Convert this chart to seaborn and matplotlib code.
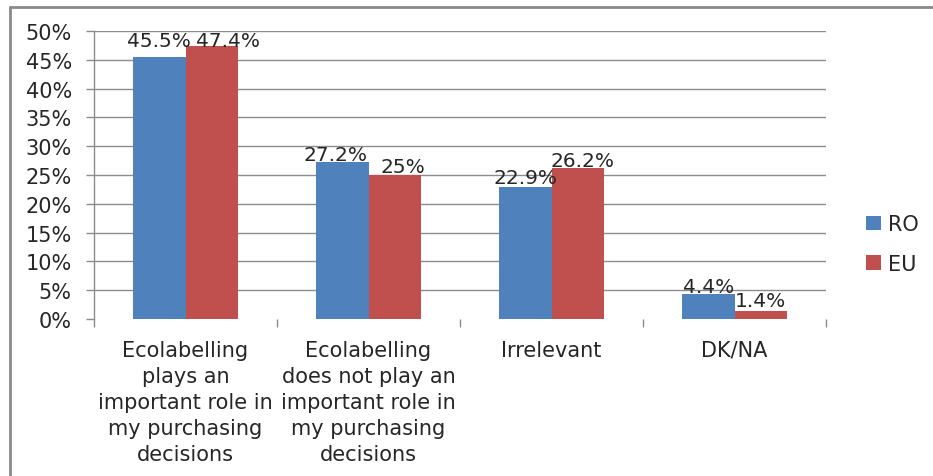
import matplotlib
matplotlib.use("Agg")
import matplotlib.pyplot as plt
import seaborn as sns
import pandas as pd
from matplotlib.lines import Line2D

# survey answers, share of respondents (%)
categories = [
    "Ecolabelling\nplays an\nimportant role in\nmy purchasing\ndecisions",
    "Ecolabelling\ndoes not play an\nimportant role in\nmy purchasing\ndecisions",
    "Irrelevant",
    "DK/NA",
]
ro = [45.5, 27.2, 22.9, 4.4]
eu = [47.4, 25, 26.2, 1.4]
series = ["RO", "EU"]
yticks = [0, 5, 10, 15, 20, 25, 30, 35, 40, 45, 50]

df = pd.DataFrame({
    "answer": categories * 2,
    "share": ro + eu,
    "series": [series[0]] * len(ro) + [series[1]] * len(eu),
})

sns.set_theme(style="white")
plt.rcParams["font.family"] = ["DejaVu Sans"]

grey = "#8c8c8c"
txt = "#262626"
fs = 15
fig = plt.figure(figsize=(9.33, 4.77), dpi=100)
ax = fig.add_axes([94 / 933, 1 - 320 / 477, (826 - 94) / 933, (320 - 32) / 477])

sns.barplot(data=df, x="answer", y="share", hue="series",
            palette=["#4F81BD", "#C0504D"], saturation=1, width=0.575,
            errorbar=None, linewidth=0, ax=ax)

ax.set_xlim(-0.5, len(categories) - 0.5)
ax.set_ylim(0, 50)
ax.set_yticks(yticks)
ax.set_yticklabels([f"{v}%" for v in yticks])
ax.set_xlabel("")
ax.set_ylabel("")

ax.grid(axis="y", color=grey, lw=1.0)
ax.yaxis.get_gridlines()[0].set_visible(False)
ax.set_axisbelow(True)

for s in ["top", "right", "bottom"]:
    ax.spines[s].set_visible(False)
ax.spines["left"].set_color(grey)
ax.spines["left"].set_linewidth(1.0)

ax.tick_params(axis="y", left=True, length=6, width=1.0, color=grey,
               labelsize=fs, pad=10, labelcolor=txt)
ax.tick_params(axis="x", which="major", length=0, pad=15,
               labelsize=fs, labelcolor=txt)
ax.set_xticks([i - 0.5 for i in range(len(categories) + 1)], minor=True)
ax.tick_params(axis="x", which="minor", bottom=True, length=6, width=1.0,
               color=grey)
for lab in ax.get_xticklabels():
    lab.set_linespacing(1.38)

# data labels above each bar, nudged apart like the original (points)
dx = [[0, -5, 0, 0], [11.5, 6, 3.5, 0]]
dy = [[8, 1.5, 3, 1.5], [0, 2, 1.5, 3.5]]
for cont, vals, ox, oy in zip(ax.containers, [ro, eu], dx, dy):
    for bar, v, x, y in zip(cont, vals, ox, oy):
        ax.annotate(f"{v:g}%", (bar.get_x() + bar.get_width() / 2, bar.get_height()),
                    xytext=(x, y), textcoords="offset points",
                    ha="center", va="baseline", fontsize=14.5, color=txt)

ax.legend(loc="center left", bbox_to_anchor=(866 / 933, 1 - 245 / 477),
          bbox_transform=fig.transFigure, frameon=False, fontsize=fs,
          handlelength=0.7, handleheight=0.7, handletextpad=0.35,
          labelspacing=0.95, borderpad=0, borderaxespad=0)

# outer chart frame (left and top edges visible)
fig.add_artist(Line2D([9.5 / 933, 9.5 / 933], [0, 1 - 7.5 / 477],
                      transform=fig.transFigure, color="#8a8a8a", lw=2))
fig.add_artist(Line2D([9.5 / 933, 1], [1 - 7.5 / 477, 1 - 7.5 / 477],
                      transform=fig.transFigure, color="#8a8a8a", lw=2))

fig.savefig("out.png", dpi=100)
